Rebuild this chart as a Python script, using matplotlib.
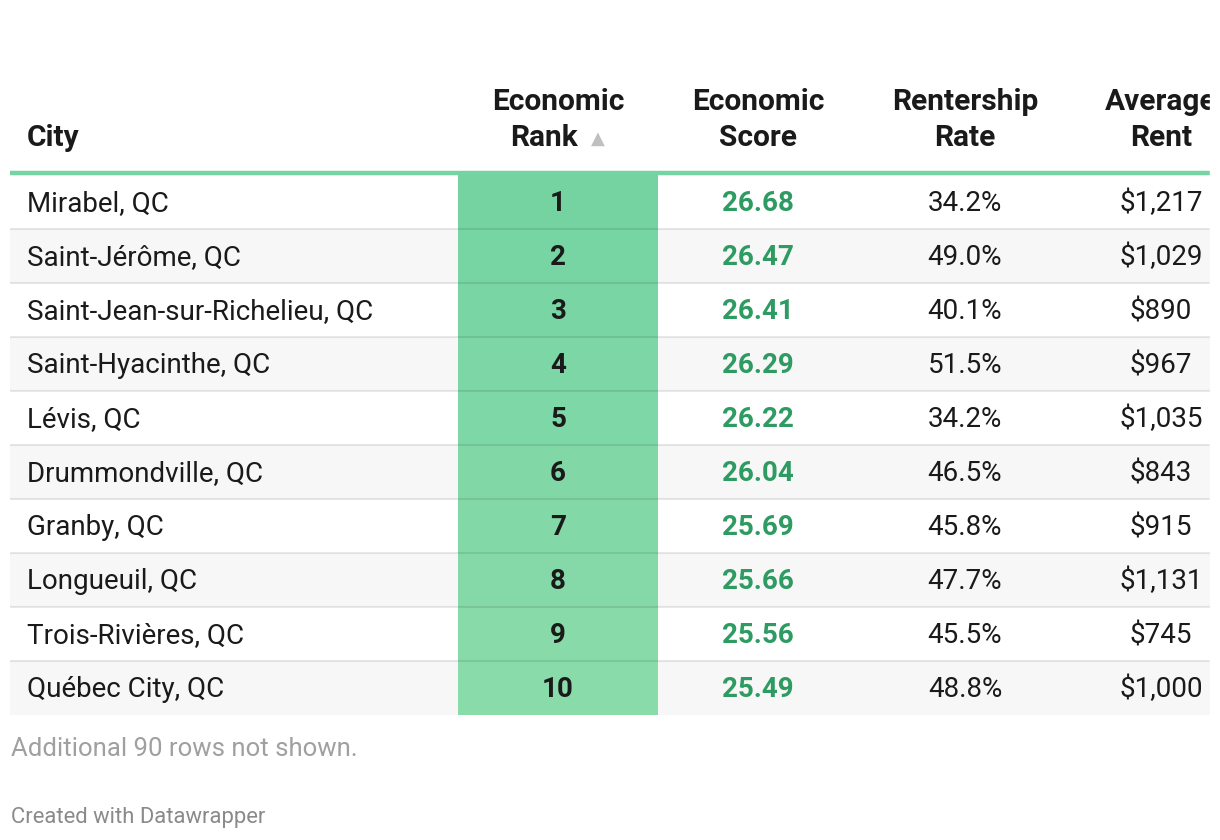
import matplotlib.pyplot as plt
import numpy as np
from matplotlib.colors import LinearSegmentedColormap

plt.rcParams['font.family'] = ['Roboto', 'DejaVu Sans']

# table data
cities = ["Mirabel, QC", "Saint-Jérôme, QC", "Saint-Jean-sur-Richelieu, QC",
          "Saint-Hyacinthe, QC", "Lévis, QC", "Drummondville, QC", "Granby, QC",
          "Longueuil, QC", "Trois-Rivières, QC", "Québec City, QC"]
ranks = [1, 2, 3, 4, 5, 6, 7, 8, 9, 10]
scores = [26.68, 26.47, 26.41, 26.29, 26.22, 26.04, 25.69, 25.66, 25.56, 25.49]
rentership = [34.2, 49.0, 40.1, 51.5, 34.2, 46.5, 45.8, 47.7, 45.5, 48.8]
rents = [1217, 1029, 890, 967, 1035, 843, 915, 1131, 745, 1000]

fig = plt.figure(figsize=(12.2, 8.4), dpi=100)
ax = fig.add_axes([0, 0, 1, 1])
ax.set_xlim(0, 1220)
ax.set_ylim(840, 0)
ax.axis('off')

left, right = 10, 1210
top, rowh = 175, 54
ys = top + rowh * np.arange(len(cities)) + rowh / 2

# zebra rows
row_colors = ['white' if i % 2 == 0 else '#f7f7f7' for i in range(len(cities))]
ax.barh(ys, right - left, left=left, height=rowh, color=row_colors, zorder=1)

# rank column colour scale
cmap = LinearSegmentedColormap.from_list('rk', ['#75d3a2', '#8adbaa'])
rk = np.array(ranks)
ax.barh(ys, 200, left=458, height=rowh, color=cmap((rk - rk.min()) / (rk.max() - rk.min())), zorder=2)

# separators
for y in ys[:-1] + rowh / 2:
    ax.plot([left, right], [y, y], color='black', alpha=0.09, lw=1.5, zorder=3,
            solid_capstyle='butt')
ax.plot([left, right], [173, 173], color='#76d4a3', lw=3.2, zorder=4, solid_capstyle='butt')

# header
hdr = dict(fontsize=21.5, fontweight='bold', color='#1a1a1a', va='baseline')
ax.text(27, 146, "City", ha='left', **hdr)
ax.text(558, 110, "Economic", ha='center', **hdr)
ax.text(544, 146, "Rank", ha='center', **hdr)
ax.text(598, 144, "▲", ha='center', va='baseline', fontsize=13, color='#c0c0c0',
        family=['DejaVu Sans'])
ax.text(758, 110, "Economic", ha='center', **hdr)
ax.text(758, 146, "Score", ha='center', **hdr)
ax.text(965, 110, "Rentership", ha='center', **hdr)
ax.text(965, 146, "Rate", ha='center', **hdr)
ax.text(1161, 110, "Average", ha='center', **hdr)
ax.text(1161, 146, "Rent", ha='center', **hdr)

# body
for i, y in enumerate(ys):
    yb = y + 9
    ax.text(27, yb, cities[i], ha='left', va='baseline', fontsize=20, color='#1a1a1a', zorder=5)
    ax.text(558, yb, str(ranks[i]), ha='center', va='baseline', fontsize=20,
            fontweight='bold', color='#1a1a1a', zorder=5)
    ax.text(758, yb, "%.2f" % scores[i], ha='center', va='baseline', fontsize=20,
            fontweight='bold', color='#2e9b62', zorder=5)
    ax.text(965, yb, "%.1f%%" % rentership[i], ha='center', va='baseline', fontsize=20,
            color='#1a1a1a', zorder=5)
    ax.text(1161, yb, "${:,}".format(rents[i]), ha='center', va='baseline', fontsize=20,
            color='#1a1a1a', zorder=5)

# cover anything past the right edge
ax.axvspan(right, 1220, color='white', zorder=10)

ax.text(11, 756, "Additional 90 rows not shown.", ha='left', va='baseline',
        fontsize=18.5, color='#a0a0a0')
ax.text(11, 823, "Created with Datawrapper", ha='left', va='baseline',
        fontsize=15.8, color='#8a8a8a')

fig.savefig('out.png', dpi=100)
